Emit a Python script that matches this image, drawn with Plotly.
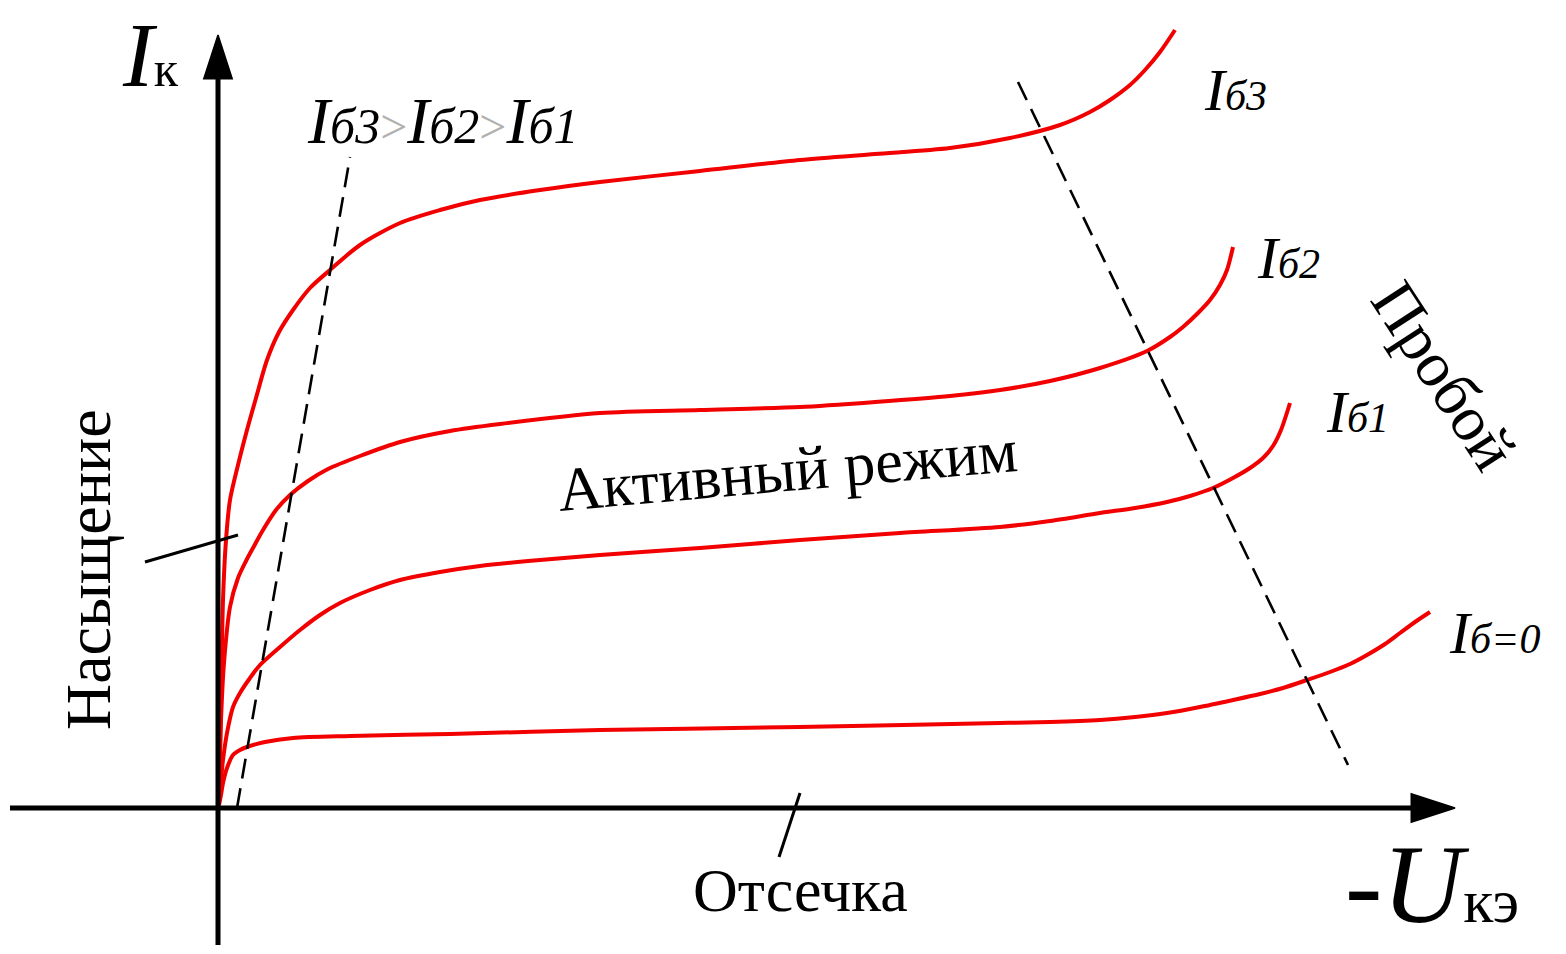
import plotly.graph_objects as go

# ---- data (U in arbitrary units, I in arbitrary units) ----
u_ib3 = [0.01, 0.03, 0.05, 0.08, 0.12, 0.20, 0.29, 0.38, 0.49, 0.61, 0.75, 0.92, 1.12, 1.42, 1.82, 2.22, 2.62,
         3.22, 3.82, 4.82, 5.82, 6.57, 7.32, 7.92, 8.42, 8.72, 8.92, 9.12, 9.27, 9.42, 9.57]
i_ib3 = [0.03, 1.08, 2.08, 2.68, 3.08, 3.43, 3.78, 4.10, 4.48, 4.76, 4.98, 5.20, 5.38, 5.63, 5.85, 5.98, 6.08,
         6.18, 6.26, 6.37, 6.48, 6.54, 6.60, 6.70, 6.83, 6.96, 7.08, 7.23, 7.38, 7.56, 7.78]

u_ib2 = [0.01, 0.03, 0.06, 0.12, 0.20, 0.28, 0.35, 0.45, 0.58, 0.72, 0.90, 1.10, 1.42, 1.82, 2.32, 2.82, 3.82,
         4.82, 5.82, 6.57, 7.32, 7.82, 8.32, 8.82, 9.29, 9.52, 9.65, 9.80, 9.92, 10.02, 10.09, 10.15]
i_ib2 = [0.08, 0.88, 1.45, 2.01, 2.30, 2.47, 2.60, 2.78, 2.98, 3.13, 3.27, 3.39, 3.52, 3.66, 3.77, 3.84, 3.95,
         3.98, 4.01, 4.06, 4.12, 4.18, 4.27, 4.40, 4.57, 4.71, 4.81, 4.95, 5.08, 5.23, 5.38, 5.61]

u_ib1 = [0.01, 0.03, 0.05, 0.09, 0.15, 0.22, 0.32, 0.42, 0.62, 0.82, 1.02, 1.22, 1.52, 1.82, 2.22, 2.62, 3.22,
         3.82, 4.82, 5.82, 6.82, 7.82, 8.32, 8.82, 9.17, 9.49, 9.72, 9.95, 10.15, 10.32, 10.45, 10.55, 10.63, 10.72]
i_ib1 = [0.08, 0.28, 0.48, 0.75, 1.01, 1.15, 1.30, 1.43, 1.61, 1.78, 1.93, 2.05, 2.18, 2.28, 2.36, 2.42, 2.48,
         2.53, 2.60, 2.68, 2.75, 2.81, 2.87, 2.95, 3.00, 3.06, 3.12, 3.20, 3.30, 3.40, 3.50, 3.62, 3.78, 4.05]

u_ib0 = [0.01, 0.03, 0.05, 0.09, 0.15, 0.22, 0.29, 0.47, 0.75, 1.32, 2.32, 3.82, 5.82, 7.82, 8.32, 8.82, 9.17,
         9.49, 9.82, 10.15, 10.42, 10.65, 10.89, 11.12, 11.32, 11.49, 11.67, 11.82, 11.97, 12.12]
i_ib0 = [0.03, 0.13, 0.25, 0.40, 0.53, 0.58, 0.61, 0.66, 0.70, 0.72, 0.74, 0.78, 0.81, 0.85, 0.86, 0.88, 0.91,
         0.95, 1.01, 1.08, 1.14, 1.20, 1.28, 1.36, 1.44, 1.53, 1.64, 1.75, 1.86, 1.96]

sat_line_u = [0.19, 1.32]
sat_line_i = [0.00, 6.51]
brk_line_u = [8.00, 11.30]
brk_line_i = [7.26, 0.43]

ptr_sat_u = [-0.73, 0.20]
ptr_sat_i = [2.46, 2.73]
ptr_cut_u = [5.61, 5.82]
ptr_cut_i = [-0.49, 0.15]

x_axis_u = [-2.08, 12.37]
x_axis_i = [0.0, 0.0]
y_axis_u = [0.0, 0.0]
y_axis_i = [-1.37, 7.73]

curve_labels = ["б3", "б2", "б1", "б=0"]
label_u = [10.17, 10.70, 11.39, 12.76]
label_i = [7.18, 5.50, 3.96, 1.75]

FONT = "Liberation Serif"
RED = "#f20000"

fig = go.Figure()

for u, i in [(u_ib3, i_ib3), (u_ib2, i_ib2), (u_ib1, i_ib1), (u_ib0, i_ib0)]:
    fig.add_trace(go.Scatter(x=u, y=i, mode="lines",
                             line=dict(color=RED, width=4, shape="spline", smoothing=0.8),
                             hoverinfo="skip", showlegend=False))

for u, i in [(sat_line_u, sat_line_i), (brk_line_u, brk_line_i)]:
    fig.add_trace(go.Scatter(x=u, y=i, mode="lines",
                             line=dict(color="black", width=2.6, dash="20px,10px"),
                             hoverinfo="skip", showlegend=False))

for u, i in [(ptr_sat_u, ptr_sat_i), (ptr_cut_u, ptr_cut_i)]:
    fig.add_trace(go.Scatter(x=u, y=i, mode="lines",
                             line=dict(color="black", width=3),
                             hoverinfo="skip", showlegend=False))

# axes with arrow heads
for u, i in [(x_axis_u, x_axis_i), (y_axis_u, y_axis_i)]:
    fig.add_trace(go.Scatter(x=u, y=i, mode="lines+markers",
                             line=dict(color="black", width=5),
                             marker=dict(symbol="arrow", size=[0, 46], angleref="previous",
                                         color="#000000", opacity=1,
                                         line=dict(width=1.5, color="#000000")),
                             hoverinfo="skip", showlegend=False))

def txt(x, y, text, size, angle=0, color="black", yanchor="middle"):
    fig.add_annotation(x=x, y=y, xref="x", yref="y", text=text, showarrow=False,
                       textangle=angle, yanchor=yanchor,
                       font=dict(family=FONT, size=size, color=color))

for t, x, y in zip(curve_labels, label_u, label_i):
    txt(x, y, "<i>I<span style='font-size:42px'>" + t + "</span></i>", 60)

txt(-0.68, 8.06, "<i>I</i><span style='font-size:50px'>к</span>", 92, yanchor="top")
sub = "<span style='font-size:50px'>"
gt = "<span style='color:#b0b0b0;font-size:48px'>&gt;</span>"
txt(2.25, 6.88, "<i>I" + sub + "б3</span></i>" + gt +
                "<i>I" + sub + "б2</span></i>" + gt +
                "<i>I" + sub + "б1</span></i>", 66)
txt(12.26, 4.33, "Пробой", 64, angle=57)
txt(-1.30, 2.38, "Насыщение", 64, angle=-90)
txt(5.69, 3.38, "Активный режим", 62, angle=-5)
txt(5.82, -0.82, "Отсечка", 62)
txt(12.14, -0.76, "<i>-U</i><span style='font-size:62px'>кэ</span>", 112)

fig.update_layout(
    width=1566, height=954,
    margin=dict(l=0, r=0, t=0, b=0),
    paper_bgcolor="white", plot_bgcolor="white",
    xaxis=dict(range=[-2.18, 13.48], visible=False, fixedrange=True),
    yaxis=dict(range=[-1.46, 8.08], visible=False, fixedrange=True),
    showlegend=False,
)

fig.write_html("out.html", config={"displayModeBar": False},
               post_script="document.body.style.margin='0px';")
